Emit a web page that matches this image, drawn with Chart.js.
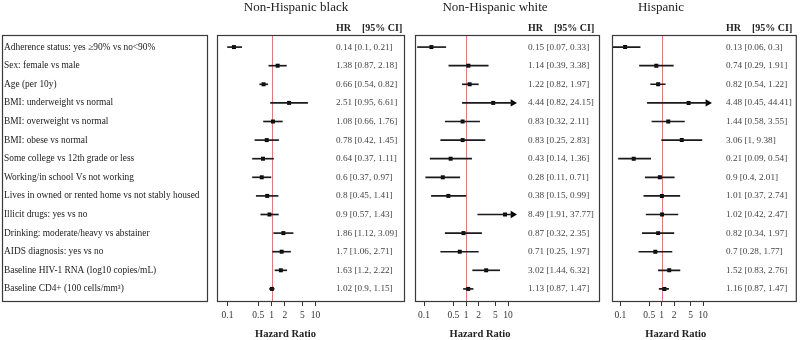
<!DOCTYPE html>
<html>
<head>
<meta charset="utf-8">
<script src="https://cdn.jsdelivr.net/npm/chart.js@4.4.1/dist/chart.umd.min.js"></script>
<style>
  body { margin: 0; background: #fff; width: 800px; height: 340px; position: relative; overflow: hidden; }
  canvas { position: absolute; top: 0; }
</style>
</head>
<body>
<canvas id="black" width="410" height="340" style="left:0"></canvas>
<canvas id="white" width="195" height="340" style="left:410px"></canvas>
<canvas id="hisp" width="195" height="340" style="left:605px"></canvas>
<script>
// row labels (top to bottom)
const rows = [
  'Adherence status: yes \u226590% vs no<90%',
  'Sex: female vs male',
  'Age (per 10y)',
  'BMI: underweight vs normal',
  'BMI: overweight vs normal',
  'BMI: obese vs normal',
  'Some college vs 12th grade or less',
  'Working/in school Vs not working',
  'Lives in owned or rented home vs not stably housed',
  'Illicit drugs: yes vs no',
  'Drinking: moderate/heavy vs abstainer',
  'AIDS diagnosis: yes vs no',
  'Baseline HIV-1 RNA (log10 copies/mL)',
  'Baseline CD4+ (100 cells/mm\u00b3)'
];
const tickValues = [0.1, 0.5, 1, 2, 5, 10];

const blackHR = [0.14, 1.38, 0.66, 2.51, 1.08, 0.78, 0.64, 0.6, 0.8, 0.9, 1.86, 1.7, 1.63, 1.02];
const blackLo = [0.1, 0.87, 0.54, 0.95, 0.66, 0.42, 0.37, 0.37, 0.45, 0.57, 1.12, 1.06, 1.2, 0.9];
const blackHi = [0.21, 2.18, 0.82, 6.61, 1.76, 1.45, 1.11, 0.97, 1.41, 1.43, 3.09, 2.71, 2.22, 1.15];

const whiteHR = [0.15, 1.14, 1.22, 4.44, 0.83, 0.83, 0.43, 0.28, 0.38, 8.49, 0.87, 0.71, 3.02, 1.13];
const whiteLo = [0.07, 0.39, 0.82, 0.82, 0.32, 0.25, 0.14, 0.11, 0.15, 1.91, 0.32, 0.25, 1.44, 0.87];
const whiteHi = [0.33, 3.38, 1.97, 24.15, 2.11, 2.83, 1.36, 0.71, 0.99, 37.77, 2.35, 1.97, 6.32, 1.47];

const hispHR = [0.13, 0.74, 0.82, 4.48, 1.44, 3.06, 0.21, 0.9, 1.01, 1.02, 0.82, 0.7, 1.52, 1.16];
const hispLo = [0.06, 0.29, 0.54, 0.45, 0.58, 1, 0.09, 0.4, 0.37, 0.42, 0.34, 0.28, 0.83, 0.87];
const hispHi = [0.3, 1.91, 1.22, 44.41, 3.55, 9.38, 0.54, 2.01, 2.74, 2.47, 1.97, 1.77, 2.76, 1.47];

const CAP = 13; // CIs beyond this end in an arrow
const SERIF = '"Liberation Serif", "Times New Roman", serif';

function forestPlugin(cfg, hr, lo, hi) {
  return {
    id: 'forest',
    beforeDatasetsDraw(chart) {
      const { ctx, chartArea: a, scales: { x } } = chart;
      const px = Math.round(x.getPixelForValue(1)) + 0.5;
      ctx.save();
      ctx.strokeStyle = '#e07b7b';
      ctx.lineWidth = 1;
      ctx.beginPath();
      ctx.moveTo(px, a.top);
      ctx.lineTo(px, a.bottom);
      ctx.stroke();
      ctx.restore();
    },
    afterDraw(chart) {
      const { ctx, chartArea: a, scales: { x, y } } = chart;
      ctx.save();
      ctx.strokeStyle = '#3a3a3a';
      ctx.lineWidth = 1.2;
      ctx.strokeRect(a.left + 0.5, a.top + 0.5, a.right - a.left, a.bottom - a.top);
      if (cfg.labelBox) {
        ctx.strokeRect(cfg.labelBox[0] + 0.5, a.top + 0.5, cfg.labelBox[1] - cfg.labelBox[0], a.bottom - a.top);
      }
      ctx.textBaseline = 'middle';
      ctx.fillStyle = '#222';
      ctx.textAlign = 'center';
      ctx.font = '13px ' + SERIF;
      ctx.fillText(cfg.title, a.left + cfg.titleX, 7.5);

      const tx = a.left + cfg.textX;
      ctx.textAlign = 'left';
      ctx.font = 'bold 10px ' + SERIF;
      ctx.fillText('HR', tx, 28);
      ctx.fillText('[95% CI]', tx + 26, 28);

      ctx.font = '9.2px ' + SERIF;
      ctx.fillStyle = '#444';
      hr.forEach((v, i) => {
        ctx.fillText(v + ' [' + lo[i] + ', ' + hi[i] + ']', tx, y.getPixelForValue(i));
      });

      ctx.textAlign = 'center';
      ctx.fillStyle = '#222';
      ctx.font = 'bold 10.5px ' + SERIF;
      ctx.fillText('Hazard Ratio', x.getPixelForValue(1) + 14, 334);
      ctx.restore();
    }
  };
}

function panel(id, hr, lo, hi, cfg) {
  const showLabels = !!cfg.labelBox;
  new Chart(document.getElementById(id), {
    type: 'bar',
    data: {
      datasets: [
        {
          type: 'bar',
          indexAxis: 'y',
          data: hr.map((v, i) => ({ x: [lo[i], Math.min(hi[i], CAP)], y: i })),
          backgroundColor: '#1a1a1a',
          borderWidth: 0,
          barThickness: 1
        },
        {
          type: 'scatter',
          data: hr.map((v, i) => ({ x: v, y: i })),
          pointStyle: 'rect',
          pointRadius: 2.8,
          backgroundColor: '#000',
          borderWidth: 0
        },
        {
          type: 'scatter',
          data: hr.map((v, i) => ({ x: CAP, y: i })).filter((p, i) => hi[i] > CAP),
          pointStyle: 'triangle',
          rotation: 90,
          pointRadius: 4.2,
          backgroundColor: '#000',
          borderWidth: 0
        }
      ]
    },
    options: {
      responsive: false,
      animation: false,
      devicePixelRatio: 1,
      layout: { padding: { left: cfg.pad[0], right: cfg.pad[1], top: 35, bottom: 0 } },
      plugins: { legend: { display: false }, tooltip: { enabled: false } },
      scales: {
        x: {
          type: 'logarithmic',
          offset: false,
          min: cfg.min,
          max: cfg.max,
          afterBuildTicks: s => { s.ticks = tickValues.map(v => ({ value: v })); },
          afterFit: s => { s.height = 39; },
          grid: { offset: false, drawOnChartArea: false, drawTicks: true, tickLength: 5, color: '#333' },
          border: { display: false },
          ticks: {
            callback: v => String(v),
            autoSkip: false,
            maxRotation: 0,
            padding: 4,
            color: '#333',
            font: { family: SERIF, size: 9.5 }
          }
        },
        y: {
          type: 'linear',
          offset: false,
          reverse: true,
          min: -0.65,
          max: 13.65,
          display: showLabels,
          afterBuildTicks: s => { s.ticks = rows.map((r, i) => ({ value: i })); },
          afterFit: s => { s.width = showLabels ? 213 : 0; },
          grid: { display: false, offset: false },
          border: { display: false },
          ticks: {
            callback: v => rows[v],
            autoSkip: false,
            crossAlign: 'far',
            color: '#222',
            font: { family: SERIF, size: 9.4 }
          }
        }
      }
    },
    plugins: [forestPlugin(cfg, hr, lo, hi)]
  });
}

panel('black', blackHR, blackLo, blackHi, {
  title: 'Non-Hispanic black', titleX: 79, textX: 119,
  pad: [4, 6], min: 0.0577, max: 1026, labelBox: [2, 207]
});
panel('white', whiteHR, whiteLo, whiteHi, {
  title: 'Non-Hispanic white', titleX: 80, textX: 113,
  pad: [5, 6], min: 0.061, max: 1468
});
panel('hisp', hispHR, hispLo, hispHi, {
  title: 'Hispanic', titleX: 49, textX: 114,
  pad: [7, 2], min: 0.0626, max: 1763
});
</script>
</body>
</html>
